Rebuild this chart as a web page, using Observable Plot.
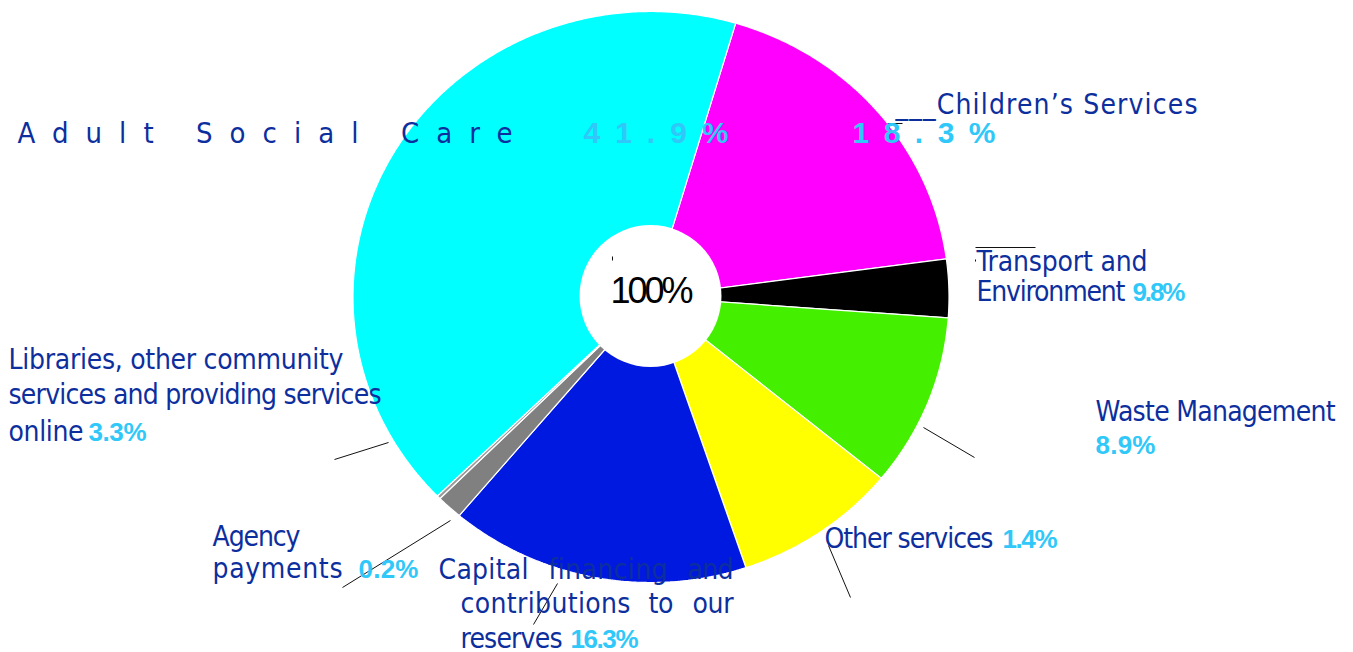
<!DOCTYPE html>
<html>
<head>
<meta charset="utf-8">
<script src="https://cdn.jsdelivr.net/npm/d3@7"></script>
<script src="https://cdn.jsdelivr.net/npm/@observablehq/plot@0.6"></script>
<style>
  html, body { margin: 0; padding: 0; background: #ffffff; }
  #chart svg { display: block; }
</style>
</head>
<body>
<div id="chart"></div>
<script>
// ---------- data ----------
const categories = [
  "Children’s Services",
  "Libraries, other community services and providing services online",
  "Transport and Environment",
  "Waste Management",
  "Capital financing and contributions to our reserves",
  "Other services",
  "Agency payments",
  "Adult Social Care"
];
const values = [18.3, 3.3, 9.8, 8.9, 16.3, 1.4, 0.2, 41.9];
const sliceColors = ["#ff00ff", "#000000", "#44f000", "#ffff00", "#0019e0", "#808080", "#9a9a9a", "#00ffff"];
const totalLabel = "100%";

// ---------- layout (pixel space) ----------
const W = 1353, H = 652;
const pieGeom = {cx: 651, cy: 297, rx: 298, ry: 285.5, startDeg: 16.5};
const hole = {x: 650, y: 295.5, r: 71, w: 83};
const NAME = "#0d2f9e", PCT = "#30c8f8";
const NAME_FONT = "DejaVu Sans Condensed, DejaVu Sans, sans-serif";
const PCT_FONT = "Liberation Sans, Arial, sans-serif";

// name text pieces: category index, text, baseline position, target width
const nameLayout = [
  {c: 0, t: "___Children’s Services", x: 895, y: 113, w: 302},
  {c: 2, t: "Transport and", x: 976, y: 270, w: 171},
  {c: 2, t: "Environment", x: 976, y: 300, w: 149},
  {c: 1, t: "Libraries, other community", x: 8, y: 368, w: 335},
  {c: 1, t: "services and providing services", x: 8, y: 403, w: 373},
  {c: 1, t: "online", x: 8, y: 440, w: 75},
  {c: 3, t: "Waste Management", x: 1095, y: 420, w: 240},
  {c: 6, t: "Agency", x: 212, y: 545, w: 88},
  {c: 6, t: "payments", x: 212, y: 577, w: 130},
  {c: 4, t: "Capital", x: 438, y: 578, w: 90},
  {c: 4, t: "financing", x: 548, y: 578, w: 119},
  {c: 4, t: "and", x: 687, y: 578, w: 46},
  {c: 4, t: "contributions", x: 460, y: 612, w: 170},
  {c: 4, t: "to", x: 648, y: 612, w: 25},
  {c: 4, t: "our", x: 692, y: 612, w: 41},
  {c: 4, t: "reserves", x: 460, y: 647, w: 102},
  {c: 5, t: "Other services", x: 824, y: 547, w: 169}
];
// percentage pieces: category index, baseline position, target width
const pctLayout = [
  {c: 2, x: 1132, y: 300, w: 53},
  {c: 1, x: 88, y: 440, w: 58},
  {c: 3, x: 1095, y: 453, w: 60},
  {c: 6, x: 358, y: 577, w: 60},
  {c: 4, x: 570, y: 647, w: 68},
  {c: 5, x: 1002, y: 547, w: 55}
];
// letter-spaced line at the top
const spacedName = {c: 7, x: 17, y: 142, w: 495};
const spacedPct = [
  {c: 7, x: 583, y: 142, w: 145},
  {c: 0, x: 852, y: 142, w: 143}
];
// leader lines
const leaders = [
  {x1: 388, y1: 442, x2: 334, y2: 459},
  {x1: 450, y1: 520, x2: 342, y2: 587},
  {x1: 557, y1: 583, x2: 533, y2: 624},
  {x1: 828, y1: 545, x2: 850, y2: 597},
  {x1: 923, y1: 427, x2: 974, y2: 457},
  {x1: 975, y1: 247, x2: 1035, y2: 247},
  {x1: 975, y1: 259, x2: 975, y2: 261},
  {x1: 887, y1: 123, x2: 902, y2: 123},
  {x1: 612, y1: 256, x2: 612, y2: 260}
];

// ---------- slices (fans from the pie centre) ----------
const a0 = pieGeom.startDeg * Math.PI / 180;
const arcs = d3.pie().sort(null).value(d => d).startAngle(a0).endAngle(a0 + 2 * Math.PI)(values);
const sliceMarks = arcs.map((a, i) => {
  const pts = [];
  const n = Math.max(2, Math.ceil((a.endAngle - a.startAngle) / (Math.PI / 360)));
  for (let k = 0; k <= n; k++) {
    const ang = a.startAngle + (a.endAngle - a.startAngle) * k / n;
    pts.push({
      x: pieGeom.cx + pieGeom.rx * Math.sin(ang), y: pieGeom.cy - pieGeom.ry * Math.cos(ang),
      x0: pieGeom.cx, y0: pieGeom.cy
    });
  }
  return Plot.area(pts, {x1: "x", y1: "y", x2: "x0", y2: "y0", fill: sliceColors[i], stroke: "white", strokeWidth: 1.2, strokeLinejoin: "miter"});
});

const fmt = v => `${v}%`;
const pctData = pctLayout.map(p => ({...p, t: fmt(values[p.c])}));
const spacedPctData = spacedPct.map(p => ({...p, t: fmt(values[p.c])}));
const spacedNameData = [{...spacedName, t: categories[spacedName.c]}];

const plot = Plot.plot({
  width: W, height: H,
  margin: 0,
  x: {domain: [0, W], range: [0, W], axis: null},
  y: {domain: [0, H], range: [0, H], axis: null},
  style: {background: "white", overflow: "visible"},
  marks: [
    ...sliceMarks,
    Plot.dot([hole], {x: "x", y: "y", r: hole.r, fill: "white", stroke: "none"}),
    Plot.link(leaders, {x1: "x1", y1: "y1", x2: "x2", y2: "y2", stroke: "#111", strokeWidth: 1}),
    Plot.text([hole], {x: "x", y: "y", text: () => totalLabel, dy: 6.5, textAnchor: "middle", lineAnchor: "bottom",
      fontFamily: PCT_FONT, fontSize: 36, fill: "black"}),
    Plot.text(nameLayout, {x: "x", y: "y", text: "t", textAnchor: "start", lineAnchor: "bottom",
      fontFamily: NAME_FONT, fontSize: 28, fill: NAME}),
    Plot.text(pctData, {x: "x", y: "y", text: "t", textAnchor: "start", lineAnchor: "bottom",
      fontFamily: PCT_FONT, fontSize: 26, fontWeight: "bold", fill: PCT}),
    Plot.text(spacedNameData, {x: "x", y: "y", text: "t", textAnchor: "start", lineAnchor: "bottom",
      fontFamily: NAME_FONT, fontSize: 29, fill: NAME}),
    Plot.text(spacedPctData, {x: "x", y: "y", text: "t", textAnchor: "start", lineAnchor: "bottom",
      fontFamily: PCT_FONT, fontSize: 30, fontWeight: "bold", fill: PCT})
  ]
});

// fit each text piece to its measured width with letter-spacing (matched by content)
const fitMap = new Map();
[...nameLayout, ...pctData, ...spacedNameData, ...spacedPctData].forEach(d => fitMap.set(d.t, d.w));
fitMap.set(totalLabel, hole.w);
document.getElementById("chart").appendChild(plot);
plot.querySelectorAll("text").forEach(n => {
  const w = fitMap.get(n.textContent);
  if (w == null) return;
  const natural = n.getComputedTextLength();
  const len = n.textContent.length;
  if (len > 1) n.setAttribute("letter-spacing", ((w - natural) / (len - 1)).toFixed(2));
});
</script>
</body>
</html>
